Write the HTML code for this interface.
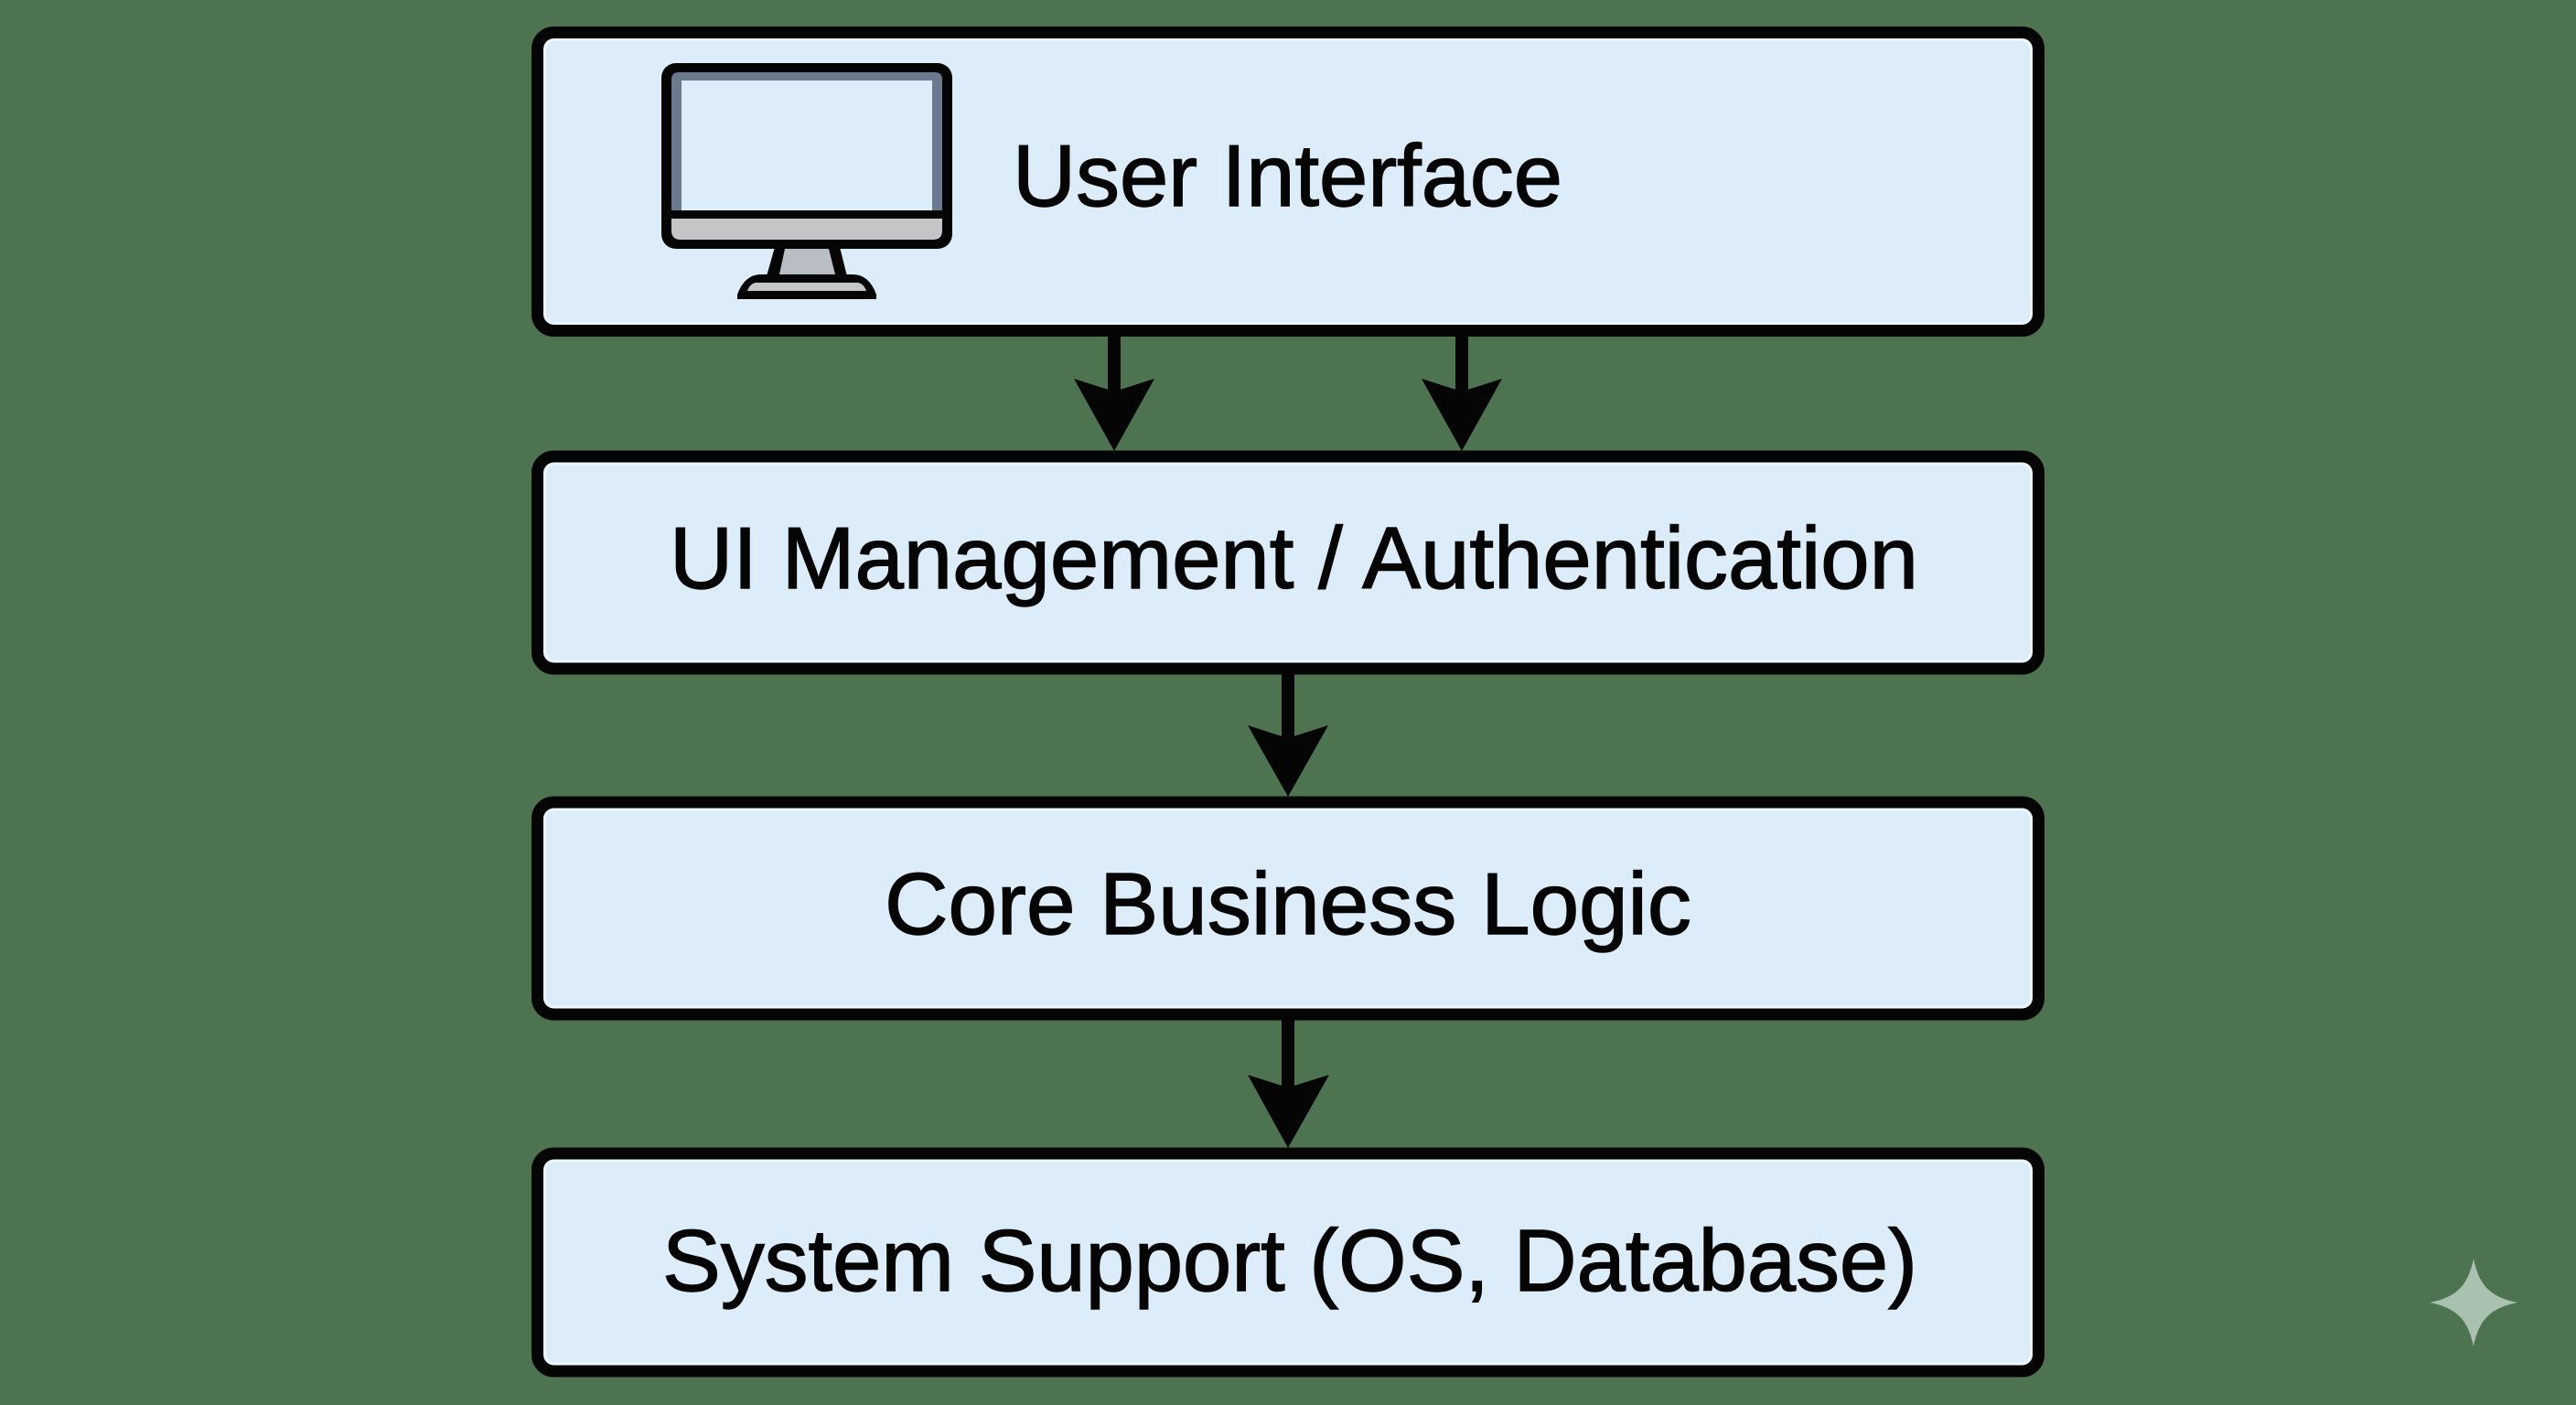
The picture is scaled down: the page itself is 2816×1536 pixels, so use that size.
<!DOCTYPE html>
<html><head><meta charset="utf-8"><style>
html,body{margin:0;padding:0;background:#4e7350;width:2816px;height:1536px;overflow:hidden}
svg{display:block}
text{font-family:"Liberation Sans",Arial,sans-serif;font-size:96px;fill:#050505;stroke:#050505;stroke-width:1.4px}
</style></head><body>
<svg xmlns="http://www.w3.org/2000/svg" width="2816" height="1536" viewBox="0 0 2816 1536">
<rect width="2816" height="1536" fill="#4e7350"/>
<g fill="#dcedf9" stroke="#050505" stroke-width="13">
<rect x="587.5" y="35.5" width="1641" height="326" rx="18"/>
<rect x="587.5" y="499" width="1641" height="232" rx="18"/>
<rect x="587.5" y="877" width="1641" height="232" rx="18"/>
<rect x="587.5" y="1261" width="1641" height="238" rx="18"/>
</g>
<g fill="none" stroke="#f1f8fd" stroke-width="2.5">
<rect x="595.5" y="43.5" width="1625" height="310" rx="11"/>
<rect x="595.5" y="507" width="1625" height="216" rx="11"/>
<rect x="595.5" y="885" width="1625" height="216" rx="11"/>
<rect x="595.5" y="1269" width="1625" height="222" rx="11"/>
</g>
<g fill="#050505">
<rect x="1211" y="365" width="14" height="70"/><path d="M1174 414L1218 428L1262 414L1218 493Z"/>
<rect x="1591" y="365" width="14" height="70"/><path d="M1554 414L1598 428L1642 414L1598 493Z"/>
<rect x="1401" y="735" width="14" height="80"/><path d="M1364 793L1408 807L1452 793L1408 871Z"/>
<rect x="1401" y="1113" width="14" height="85"/><path d="M1364 1175L1408 1189L1453 1175L1408 1255Z"/>
</g>
<!-- monitor -->
<rect x="723" y="69" width="318" height="203" rx="16" fill="#050505"/>
<path d="M734 230V87q0-8 8-8H1022q8 0 8 8V230Z" fill="#6b7a8f"/>
<rect x="745" y="88" width="274" height="142" fill="#dcedf9"/>
<path d="M734 239H1030V252q0 10-10 10H744q-10 0-10-10Z" fill="#c4c5c6"/>
<path d="M847 270H918L926 302H838Z" fill="#050505"/>
<path d="M858 272H906L913 300H852Z" fill="#b9bec5"/>
<path d="M832 300H932Q950 300 958 322V327H806V322Q814 300 832 300Z" fill="#050505"/>
<path d="M826 309H938Q944 310 947 318H817Q820 310 826 309Z" fill="#c4c8c8"/>
<!-- labels -->
<text x="1107" y="225" textLength="601" lengthAdjust="spacingAndGlyphs">User Interface</text>
<text x="732" y="643" textLength="1365" lengthAdjust="spacingAndGlyphs">UI Management / Authentication</text>
<text x="967" y="1021" textLength="882" lengthAdjust="spacingAndGlyphs">Core Business Logic</text>
<text x="724" y="1411" textLength="1372" lengthAdjust="spacingAndGlyphs">System Support (OS, Database)</text>
<!-- sparkle -->
<path d="M2704 1376C2710 1405 2722 1418 2752 1424C2722 1430 2710 1443 2704 1472C2698 1443 2686 1430 2656 1424C2686 1418 2698 1405 2704 1376Z" fill="#a9c2b0"/>
</svg>
</body></html>
